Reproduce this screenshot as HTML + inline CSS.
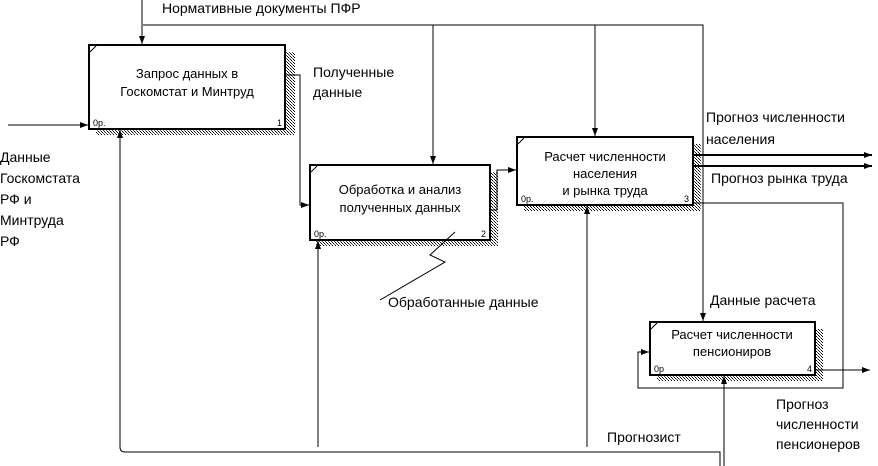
<!DOCTYPE html>
<html><head><meta charset="utf-8"><style>
html,body{margin:0;padding:0;background:#fff;}
svg{display:block;}
text{font-family:"Liberation Sans",Arial,sans-serif;fill:#000;}
.l{font-size:14px;}
.b{font-size:13px;}
.s{font-size:9px;}
</style></head><body>
<svg width="878" height="466" viewBox="0 0 878 466" xmlns="http://www.w3.org/2000/svg">
<defs>
<pattern id="h" width="3" height="3" patternUnits="userSpaceOnUse">
<rect width="3" height="3" fill="#fff"/><rect width="1" height="1" fill="#000"/><rect x="1" y="1" width="1" height="1" fill="#555"/><rect x="2" y="2" width="1" height="1" fill="#000"/>
</pattern>
<marker id="a" markerWidth="8" markerHeight="6" refX="8" refY="3" orient="auto" markerUnits="userSpaceOnUse"><path d="M0,0 L8,3 L0,6 z" fill="#000"/></marker>
</defs>
<!-- shadows -->
<rect x="285" y="52" width="10" height="83" fill="url(#h)"/><rect x="96" y="129" width="199" height="6" fill="url(#h)"/>
<rect x="490" y="172" width="8" height="74" fill="url(#h)"/><rect x="316" y="240" width="182" height="6" fill="url(#h)"/>
<rect x="693" y="144" width="8" height="67" fill="url(#h)"/><rect x="524" y="205" width="177" height="6" fill="url(#h)"/>
<rect x="815" y="329" width="8" height="52" fill="url(#h)"/><rect x="657" y="375" width="166" height="6" fill="url(#h)"/>
<!-- boxes -->
<g fill="#fff" stroke="#000" stroke-width="2">
<rect x="89" y="45" width="196" height="84"/>
<rect x="310" y="165" width="180" height="75"/>
<rect x="517" y="137" width="176" height="68"/>
<rect x="650" y="322" width="165" height="53"/>
</g>
<g stroke="#000" stroke-width="1">
<line x1="90" y1="52" x2="96" y2="46"/><line x1="311" y1="172" x2="317" y2="166"/><line x1="518" y1="144" x2="524" y2="138"/><line x1="651" y1="329" x2="657" y2="323"/>
</g>
<text class="b" x="187" y="78" text-anchor="middle">Запрос данных в</text>
<text class="b" x="187" y="96" text-anchor="middle">Госкомстат и Минтруд</text>
<text class="s" x="93" y="126">0р.</text><text class="s" x="277" y="126">1</text>
<text class="b" x="400" y="194" text-anchor="middle">Обработка и анализ</text>
<text class="b" x="400" y="212" text-anchor="middle">полученных данных</text>
<text class="s" x="314" y="237">0р.</text><text class="s" x="481" y="237">2</text>
<text class="b" x="605" y="161" text-anchor="middle">Расчет численности</text>
<text class="b" x="605" y="178" text-anchor="middle">населения</text>
<text class="b" x="605" y="195" text-anchor="middle">и рынка труда</text>
<text class="s" x="521" y="202">0р.</text><text class="s" x="684" y="202">3</text>
<text class="b" x="732" y="339" text-anchor="middle">Расчет численности</text>
<text class="b" x="732" y="356" text-anchor="middle">пенсиониров</text>
<text class="s" x="654" y="372">0р</text><text class="s" x="807" y="372">4</text>
<!-- connectors -->
<g fill="none" stroke="#000" stroke-width="1">
<path d="M142,0 V44" marker-end="url(#a)"/>
<path d="M143,25 H703 V321" marker-end="url(#a)"/>
<path d="M433,25 V164" marker-end="url(#a)"/>
<path d="M595,25 V136" marker-end="url(#a)"/>
<path d="M8,125 H88" marker-end="url(#a)"/>
<path d="M286,75 H300 V205 H309" marker-end="url(#a)"/>
<path d="M491,210 H497 V170 H516" marker-end="url(#a)"/>
<path d="M694,203 H843 V388 H638 V352 H649" marker-end="url(#a)"/>
<path d="M816,370 H870" marker-end="url(#a)"/>
<path d="M120,447 V130" marker-end="url(#a)"/>
<path d="M318,447 V241" marker-end="url(#a)"/>
<path d="M587,447 V206" marker-end="url(#a)"/>
<path d="M120,447 Q120,452 125,452 H720 V466"/>
<path d="M724,466 V376" marker-end="url(#a)"/>
<path d="M455,232 L430,255 L445,262 L380,300"/>
</g>
<g stroke="#000" stroke-width="2" fill="none">
<path d="M694,155 H872" marker-end="url(#a)"/>
<path d="M694,166 H872" marker-end="url(#a)"/>
</g>
<!-- labels -->
<text class="l" x="162" y="13">Нормативные документы ПФР</text>
<text class="l" x="313" y="77">Полученные</text>
<text class="l" x="313" y="97">данные</text>
<text class="l" x="0" y="162">Данные</text>
<text class="l" x="0" y="183">Госкомстата</text>
<text class="l" x="0" y="204">РФ и</text>
<text class="l" x="0" y="225">Минтруда</text>
<text class="l" x="0" y="246">РФ</text>
<text class="l" x="706" y="122">Прогноз численности</text>
<text class="l" x="706" y="144">населения</text>
<text class="l" x="711" y="183">Прогноз рынка труда</text>
<text class="l" x="388" y="307">Обработанные данные</text>
<text class="l" x="710" y="305">Данные расчета</text>
<text class="l" x="607" y="442">Прогнозист</text>
<text class="l" x="776" y="409">Прогноз</text>
<text class="l" x="776" y="429">численности</text>
<text class="l" x="776" y="449">пенсионеров</text>
</svg>
</body></html>
